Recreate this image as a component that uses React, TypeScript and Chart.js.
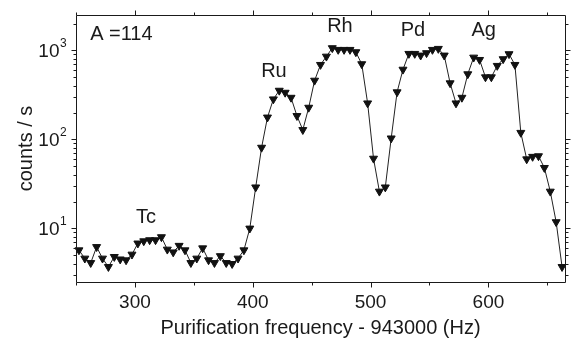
import { useEffect, useRef } from 'react';
import { Chart, registerables } from 'chart.js';

Chart.register(...registerables);

// Purification frequency offset from 943000 Hz
const frequency = [
  252.5, 257.5, 262.5, 267.5, 272.5, 277.5, 282.5, 287.5, 292.5, 297.5,
  302.5, 307.5, 312.5, 317.5, 322.5, 327.5, 332.5, 337.5, 342.5, 347.5,
  352.5, 357.5, 362.5, 367.5, 372.5, 377.5, 382.5, 387.5, 392.5, 397.5,
  402.5, 407.5, 412.5, 417.5, 422.5, 427.5, 432.5, 437.5, 442.5, 447.5,
  452.5, 457.5, 462.5, 467.5, 472.5, 477.5, 482.5, 487.5, 492.5, 497.5,
  502.5, 507.5, 512.5, 517.5, 522.5, 527.5, 532.5, 537.5, 542.5, 547.5,
  552.5, 557.5, 562.5, 567.5, 572.5, 577.5, 582.5, 587.5, 592.5, 597.5,
  602.5, 607.5, 612.5, 617.5, 622.5, 627.5, 632.5, 637.5, 642.5, 647.5,
  652.5, 657.5, 662.5,
];

// counts / s
const counts = [
  5.7, 4.6, 4.1, 6.2, 4.6, 3.7, 4.8, 4.5, 4.4, 5.1,
  6.8, 7.2, 7.4, 7.4, 8.0, 5.8, 5.4, 6.4, 5.7, 4.1,
  4.6, 6.0, 4.4, 4.1, 4.9, 4.1, 4.0, 4.6, 5.7, 10,
  29, 81, 177, 283, 354, 336, 295, 184, 128, 228,
  459, 690, 855, 1064, 1018, 1018, 1018, 959, 703, 255,
  61, 26, 29, 103, 340, 610, 918, 918, 879, 935,
  1018, 1045, 879, 429, 255, 295, 542, 834, 785, 501,
  501, 673, 800, 911, 690, 119, 60, 64, 65, 48,
  26, 11.8, 3.7,
];

const xMin = 250;
const xMax = 665;
const yMin = 2.5;
const yMax = 2500;

const xMajorTicks = [300, 400, 500, 600];
const xMajorTickLabels = ['300', '400', '500', '600'];
const xMinorTicks = [250, 350, 450, 550, 650];
const yMajorTicks = [10, 100, 1000];
const yMajorExponents = ['1', '2', '3'];
const yMinorTicks = [3, 4, 5, 6, 7, 8, 9, 20, 30, 40, 50, 60, 70, 80, 90, 200, 300, 400, 500, 600, 700, 800, 900, 2000];

const xTitle = 'Purification frequency - 943000 (Hz)';
const yTitle = 'counts / s';

const massLabel = 'A =114';
const massLabelFreq = 262;
const massLabelCounts = 1500;

const peakLabels = ['Tc', 'Ru', 'Rh', 'Pd', 'Ag'];
const peakLabelFreq = [309.5, 418, 474, 536, 596];
const peakLabelCounts = [13.3, 575, 1850, 1670, 1670];

const FONT = '"Liberation Sans", Arial, Helvetica, sans-serif';
const INK = '#1a1a1a';

const originAxes = {
  id: 'originAxes',
  afterDraw(chart: any) {
    const { ctx, chartArea: a, scales } = chart;
    const xs = scales.x;
    const ys = scales.y;
    const L = Math.round(a.left) + 0.5;
    const R = Math.round(a.right) + 0.5;
    const T = Math.round(a.top) + 0.5;
    const B = Math.round(a.bottom) + 0.5;
    ctx.save();
    ctx.strokeStyle = INK;
    ctx.lineWidth = 1;
    ctx.beginPath();
    ctx.rect(L, T, R - L, B - T);
    ctx.stroke();

    const major = 5;
    const minor = 3;
    ctx.beginPath();
    const xTick = (v: number, len: number) => {
      const px = Math.round(xs.getPixelForValue(v)) + 0.5;
      ctx.moveTo(px, B); ctx.lineTo(px, B + len);
      ctx.moveTo(px, T); ctx.lineTo(px, T - len);
    };
    const yTick = (v: number, len: number) => {
      const py = Math.round(ys.getPixelForValue(v)) + 0.5;
      ctx.moveTo(L, py); ctx.lineTo(L - len, py);
      ctx.moveTo(R, py); ctx.lineTo(R + len, py);
    };
    xMajorTicks.forEach((v) => xTick(v, major));
    xMinorTicks.forEach((v) => xTick(v, minor));
    yMajorTicks.forEach((v) => yTick(v, major));
    yMinorTicks.forEach((v) => yTick(v, minor));
    ctx.stroke();

    ctx.fillStyle = INK;
    // x tick labels
    ctx.font = `19px ${FONT}`;
    ctx.textAlign = 'center';
    ctx.textBaseline = 'alphabetic';
    xMajorTicks.forEach((v, i) => {
      ctx.fillText(xMajorTickLabels[i], xs.getPixelForValue(v), a.bottom + 26);
    });
    // y tick labels 10^n
    yMajorTicks.forEach((v, i) => {
      const py = ys.getPixelForValue(v);
      ctx.font = `19px ${FONT}`;
      ctx.textAlign = 'right';
      ctx.textBaseline = 'middle';
      ctx.fillText('10', a.left - 16.5, py + 1);
      ctx.font = `12px ${FONT}`;
      ctx.textAlign = 'left';
      ctx.fillText(yMajorExponents[i], a.left - 16, py - 7);
    });
    // axis titles
    ctx.font = `20px ${FONT}`;
    ctx.textAlign = 'center';
    ctx.textBaseline = 'alphabetic';
    ctx.fillText(xTitle, (a.left + a.right) / 2, a.bottom + 52);
    ctx.save();
    ctx.translate(32, (a.top + a.bottom) / 2);
    ctx.rotate(-Math.PI / 2);
    ctx.fillText(yTitle, 0, 0);
    ctx.restore();

    // annotations
    ctx.font = `20px ${FONT}`;
    ctx.textBaseline = 'middle';
    ctx.textAlign = 'left';
    ctx.fillText(massLabel, xs.getPixelForValue(massLabelFreq), ys.getPixelForValue(massLabelCounts));
    ctx.textAlign = 'center';
    peakLabels.forEach((t, i) => {
      ctx.fillText(t, xs.getPixelForValue(peakLabelFreq[i]), ys.getPixelForValue(peakLabelCounts[i]));
    });
    ctx.restore();
  },
};

export default function App() {
  const ref = useRef<HTMLCanvasElement>(null);
  useEffect(() => {
    if (!ref.current) return;
    const chart = new Chart(ref.current, {
      type: 'line',
      data: {
        datasets: [
          {
            data: frequency.map((f, i) => ({ x: f, y: counts[i] })),
            borderColor: '#222',
            borderWidth: 1,
            tension: 0,
            pointStyle: 'triangle',
            pointRotation: 180,
            pointRadius: 4.6,
            pointBorderWidth: 1,
            pointBackgroundColor: '#111',
            pointBorderColor: '#111',
            clip: 6,
          } as any,
        ],
      },
      options: {
        responsive: false,
        animation: false,
        devicePixelRatio: 1,
        layout: { padding: { left: 76, right: 9, top: 15, bottom: 62 } },
        plugins: { legend: { display: false }, tooltip: { enabled: false } },
        events: [],
        scales: {
          x: { type: 'linear', min: xMin, max: xMax, display: false },
          y: { type: 'logarithmic', min: yMin, max: yMax, display: false },
        },
      },
      plugins: [originAxes],
    });
    return () => chart.destroy();
  }, []);
  return (
    <div style={{ position: 'fixed', left: 0, top: 0, width: 574, height: 344, background: '#fff' }}>
      <canvas ref={ref} width={574} height={344} style={{ display: 'block' }} />
    </div>
  );
}
